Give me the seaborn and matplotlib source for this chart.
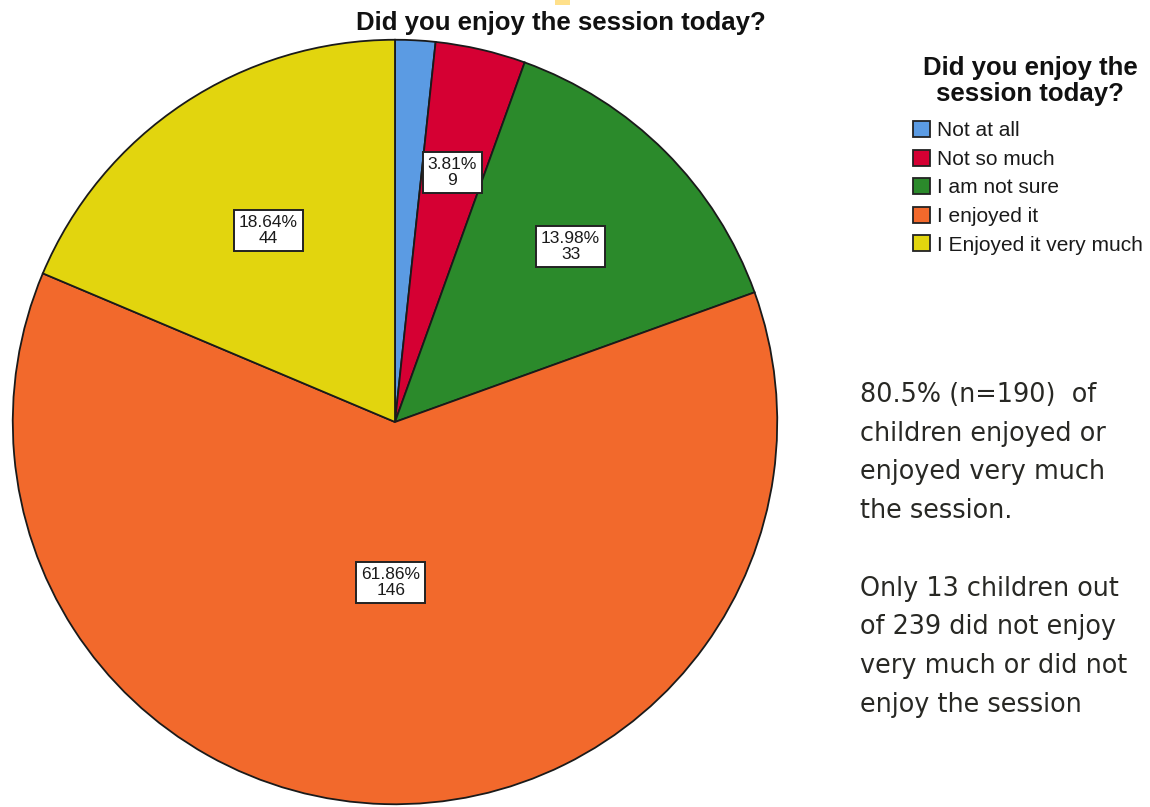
import matplotlib
matplotlib.use("Agg")
import matplotlib.pyplot as plt
from matplotlib.patches import Rectangle, Patch
import numpy as np
import seaborn as sns

# Survey answers and counts
categories = ["Not at all", "Not so much", "I am not sure", "I enjoyed it", "I Enjoyed it very much"]
counts = [4, 9, 33, 146, 44]
pct_labels = ["1.69%", "3.81%", "13.98%", "61.86%", "18.64%"]
show_label = [False, True, True, True, True]
question = "Did you enjoy the session today?"
legend_title = "Did you enjoy the\nsession today?"
summary_lines = [
    "80.5% (n=190)  of",
    "children enjoyed or",
    "enjoyed very much",
    "the session.",
    "",
    "Only 13 children out",
    "of 239 did not enjoy",
    "very much or did not",
    "enjoy the session",
]

# Styling
colors = sns.color_palette(["#5B9BE3", "#D50033", "#2B8A2B", "#F2692C", "#E2D50E"])
label_radius = [0.6, 0.67, 0.65, 0.42, 0.6]

sns.set_theme(style="white")
plt.rcParams["font.family"] = ["Liberation Sans", "DejaVu Sans"]

W, H = 1150, 807
fig = plt.figure(figsize=(W / 100, H / 100), dpi=100)

# pie axes: centre (395, 422) px, radius 383 px
cx, cy, r = 395, 422, 383
ax = fig.add_axes([(cx - r) / W, (H - cy - r) / H, 2 * r / W, 2 * r / H])
wedges, _ = ax.pie(
    counts,
    colors=colors,
    startangle=90,
    counterclock=False,
    radius=1.0,
    wedgeprops=dict(edgecolor="#1a1a1a", linewidth=1.3),
)
ax.set_xlim(-1.002, 1.002)
ax.set_ylim(-1.002, 1.002)
ax.set_aspect("equal")
ax.axis("off")

for w, pct, n, show, rad in zip(wedges, pct_labels, counts, show_label, label_radius):
    if not show:
        continue
    mid = np.deg2rad((w.theta1 + w.theta2) / 2)
    ax.text(
        rad * np.cos(mid), rad * np.sin(mid), f"{pct}\n{n}",
        ha="center", va="center", fontsize=12.5, color="#1a1a1a",
        linespacing=1.1,
        bbox=dict(boxstyle="square,pad=0.28", facecolor="white", edgecolor="#222222", linewidth=1.4),
    )

# chart title
fig.text(561 / W, 1 - 23 / H, question, ha="center", va="center",
         fontsize=18.5, fontweight="bold", color="#111111")

# legend title
fig.text(1030 / W, 1 - 81 / H, legend_title, ha="center", va="center",
         fontsize=18.5, fontweight="bold", color="#111111",
         linespacing=1.08, multialignment="center")

# legend entries
handles = [Patch(facecolor=c, edgecolor="#222222", linewidth=1.3) for c in colors]
leg = fig.legend(
    handles, categories,
    loc="upper left", bbox_to_anchor=(913 / W, 1 - 121 / H),
    frameon=False, fontsize=15,
    handlelength=0.8, handleheight=0.8, handletextpad=0.35, labelspacing=0.45,
    borderaxespad=0, borderpad=0,
)
for t in leg.get_texts():
    t.set_color("#1a1a1a")

# summary text on the right
y0, step = 395, 38.7
for i, line in enumerate(summary_lines):
    if line:
        fig.text(860 / W, 1 - (y0 + i * step) / H, line, ha="left", va="center",
                 fontsize=18.4, color="#282824", family=["DejaVu Sans"])

# small yellow tab at top edge
fig.patches.append(Rectangle((555 / W, 1 - 5 / H), 15 / W, 5 / H,
                             transform=fig.transFigure, facecolor="#FFE08A",
                             edgecolor="none"))

fig.savefig("out.png", dpi=100, facecolor="white")
